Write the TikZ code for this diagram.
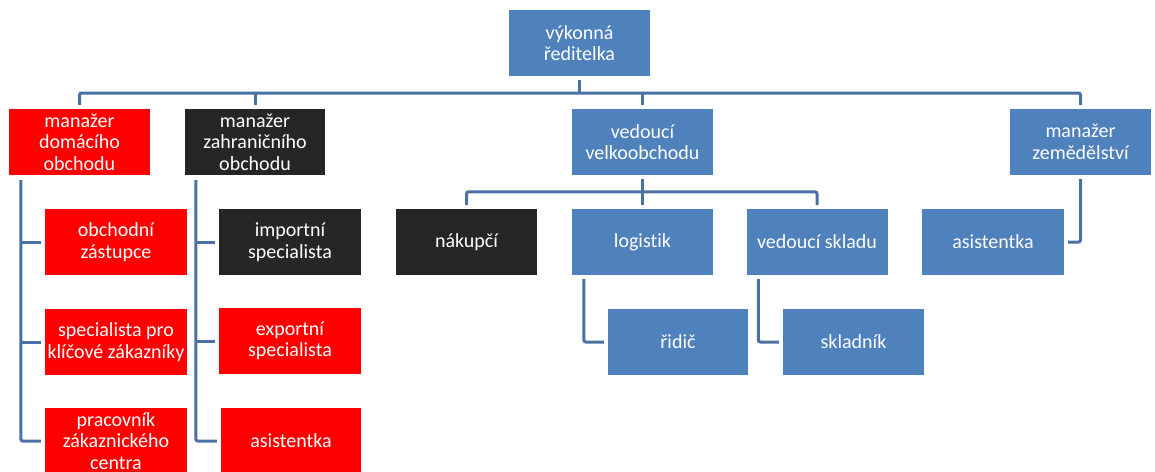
\documentclass[tikz,border=0pt]{standalone}
\usepackage{fontspec}
\setmainfont{Carlito}[Ligatures=CommonOff]
\definecolor{sablue}{HTML}{4F81BD}
\definecolor{sared}{HTML}{FF0000}
\definecolor{sablack}{HTML}{262626}
\definecolor{connc}{HTML}{4A70A5}
\tikzset{
  orgbox/.style={minimum width=141pt, minimum height=66pt, inner sep=0pt, align=center,
    text=white, font=\fontsize{20}{21.5}\selectfont},
  bluebox/.style={orgbox, fill=sablue},
  redbox/.style={orgbox, fill=sared},
  blackbox/.style={orgbox, fill=sablack},
  conn/.style={draw=connc, line width=3pt, rounded corners=2pt}
}
\begin{document}
\begin{tikzpicture}[x=1pt,y=-1pt]
\useasboundingbox (0,0) rectangle (1155,471);
% level 1
\node[bluebox] (top) at (579.5,43) {výkonná\\ředitelka};
% level 2
\node[redbox] (dom) at (79.5,142) {manažer\\domácího\\obchodu};
\node[blackbox, minimum width=140pt] (zahr) at (255,142) {manažer\\zahraničního\\obchodu};
\node[bluebox] (velk) at (642.5,142) {vedoucí\\velkoobchodu};
\node[bluebox] (zem) at (1080.5,142) {manažer\\zemědělství};
% left column
\node[redbox, minimum width=142pt] (obch) at (116,242) {obchodní\\zástupce};
\node[redbox, minimum width=142pt] (spec) at (116,342) {specialista pro\\klíčové zákazníky};
\node[redbox, minimum width=142pt] (prac) at (116,441) {pracovník\\zákaznického\\centra};
% second column
\node[blackbox, minimum width=142pt] (imp) at (290,242) {importní\\specialista};
\node[redbox, minimum width=142pt] (exp) at (290,341) {exportní\\specialista};
\node[redbox, minimum width=140pt] (asis1) at (291,441) {asistentka};
% under velkoobchod
\node[blackbox] (nak) at (466.5,242) {nákupčí};
\node[bluebox] (log) at (642.5,242) {logistik};
\node[bluebox] (skl) at (817,242) {vedoucí skladu};
\node[bluebox, minimum width=142pt] (asis2) at (993,242) {asistentka};
\node[bluebox, minimum width=140pt] (rid) at (678,342) {řidič};
\node[bluebox] (skn) at (853.5,342) {skladník};
% connectors level 1 -> 2
\draw[conn] ([yshift=-4pt]top.south) -- (top.south |- 0,93);
\draw[conn] ([yshift=4pt]dom.north) |- (zem.north |- 0,93) -- ([yshift=4pt]zem.north);
\draw[conn] ([yshift=4pt]zahr.north) -- (zahr.north |- 0,93);
\draw[conn] ([yshift=4pt]velk.north) -- (velk.north |- 0,93);
% left column
\draw[conn] ([xshift=12pt,yshift=-5pt]dom.south west) |- ([xshift=-4pt]prac.west);
\draw[conn] ([xshift=12pt]dom.south west |- obch.west) -- ([xshift=-4pt]obch.west);
\draw[conn] ([xshift=12pt]dom.south west |- spec.west) -- ([xshift=-4pt]spec.west);
% second column
\draw[conn] ([xshift=11pt,yshift=-5pt]zahr.south west) |- ([xshift=-4pt]asis1.west);
\draw[conn] ([xshift=11pt]zahr.south west |- imp.west) -- ([xshift=-4pt]imp.west);
\draw[conn] ([xshift=11pt]zahr.south west |- exp.west) -- ([xshift=-4pt]exp.west);
% velkoobchod
\draw[conn] ([yshift=-4pt]velk.south) -- ([yshift=4pt]log.north);
\draw[conn] ([yshift=4pt]nak.north) -- ++(0,-13) -| ([yshift=4pt]skl.north);
% level 4
\draw[conn] ([xshift=12pt,yshift=-4pt]log.south west) |- ([xshift=-4pt]rid.west);
\draw[conn] ([xshift=12pt,yshift=-4pt]skl.south west) |- ([xshift=-4pt]skn.west);
% zemedelstvi
\draw[conn] ([yshift=-4pt]zem.south) |- ([xshift=4pt]asis2.east);
\end{tikzpicture}
\end{document}
